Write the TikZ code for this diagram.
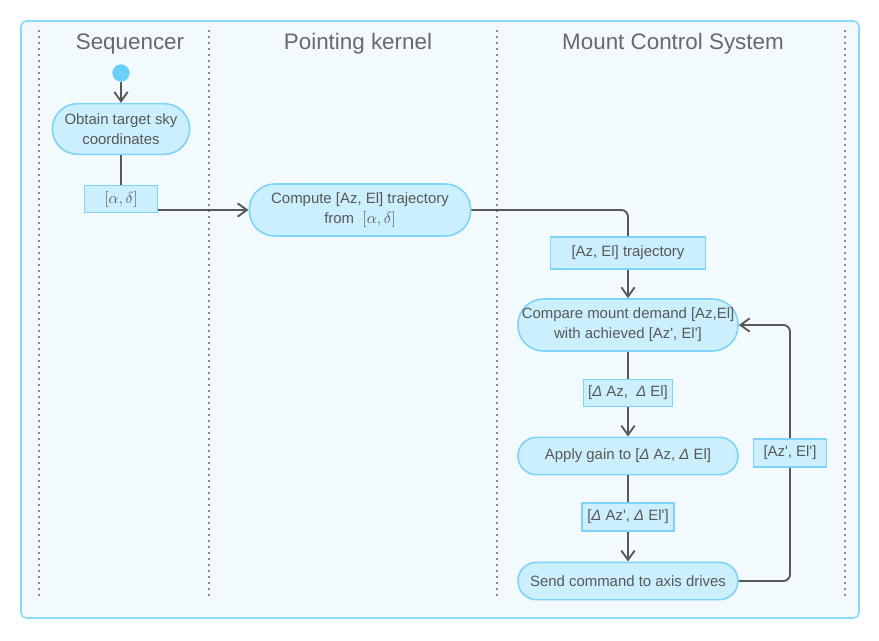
\documentclass[tikz,border=0pt]{standalone}
\usepackage{fontspec}
\setmainfont{Liberation Sans}
\usetikzlibrary{arrows.meta,positioning}

\definecolor{lanebg}{HTML}{F3FAFE}
\definecolor{laneedge}{HTML}{8CD8F8}
\definecolor{actfill}{HTML}{CBEFFD}
\definecolor{actedge}{HTML}{7DD3F8}
\definecolor{ink}{HTML}{585858}
\definecolor{dotblue}{HTML}{6CCFF8}

\newcommand{\dlt}{\textit{Δ}}
\newcommand{\apos}{\textquotesingle}

\tikzset{
  lanesep/.style={draw=ink!70, line width=1pt, dash pattern=on 1.5pt off 3pt},
  lanetitle/.style={text=ink!90, font=\fontsize{16.8}{20}\selectfont},
  startdot/.style={circle, fill=dotblue, minimum size=13pt, inner sep=0pt},
  action/.style={rectangle, rounded corners=#1, draw=actedge, fill=actfill, line width=1.2pt,
    text=ink, align=center, inner sep=1pt, font=\fontsize{11.2}{15}\selectfont},
  action/.default=19pt,
  datapin/.style={rectangle, draw=actedge, fill=actfill, line width=1.2pt,
    text=ink, inner sep=1pt, font=\fontsize{11.2}{15}\selectfont},
  wire/.style={draw=ink, line width=1.4pt},
  flow/.style={wire, -{Straight Barb[length=7pt,width=10pt]}}
}

\begin{document}
\begin{tikzpicture}[x=0.75pt,y=-0.75pt]
  \useasboundingbox (0,0) rectangle (879,640);
  \draw[laneedge, fill=lanebg, line width=1.2pt, rounded corners=4pt] (21,21) rectangle (859,618);

  % swimlanes
  \foreach \x in {39,209,497,845}
    \draw[lanesep] (\x,30) -- (\x,600);
  \node[lanetitle] (seqtitle) at (130,44) {Sequencer};
  \node[lanetitle] (kerneltitle) at (358,44) {Pointing kernel};
  \node[lanetitle] (mcstitle) at (673,44) {Mount Control System};

  % activities and data
  \node[startdot] (start) at (121,73) {};
  \node[action, minimum width=103pt, minimum height=38pt] (obtain) at (121,129)
    {Obtain target sky\\coordinates};
  \node[datapin, minimum width=55pt, minimum height=20pt, font=\fontsize{12.5}{15}\selectfont] (radec) at (121,199) {$[\alpha, \delta]$};
  \node[action, minimum width=166pt, minimum height=39pt] (compute) at (360,210)
    {Compute [Az, El] trajectory\\from\ \ {\fontsize{12.5}{15}\selectfont$[\alpha, \delta]$}};
  \node[datapin, minimum width=116pt, minimum height=24pt] (traj) at (628,253) {[Az, El] trajectory};
  \node[action, minimum width=165pt, minimum height=39pt] (compare) at (628,325)
    {Compare mount demand [Az,El]\\with achieved [Az\apos, El\apos]};
  \node[datapin, minimum width=67pt, minimum height=20pt] (delta) at (628,393)
    {[\dlt\ Az,\ \ \dlt\ El]};
  \node[action=13.9pt, minimum width=165pt, minimum height=28pt] (gain) at (628,456)
    {Apply gain to [\dlt\ Az, \dlt\ El]};
  \node[datapin, minimum width=69pt, minimum height=21pt] (deltap) at (628,517)
    {[\dlt\ Az\apos, \dlt\ El\apos]};
  \node[action=13.9pt, minimum width=165pt, minimum height=28pt] (send) at (628,581)
    {Send command to axis drives};
  \node[datapin, minimum width=55pt, minimum height=21pt] (achieved) at (790,453) {[Az\apos, El\apos]};

  % connectors
  \draw[flow] (start) -- (obtain);
  \draw[wire] (obtain) -- (radec);
  \draw[flow] (radec.east |- compute) -- (compute);
  \draw[wire, rounded corners=5pt] (compute) -| (traj);
  \draw[flow] (traj) -- (compare);
  \draw[wire] (compare) -- (delta);
  \draw[flow] (delta) -- (gain);
  \draw[wire] (gain) -- (deltap);
  \draw[flow] (deltap) -- (send);
  \draw[wire, rounded corners=5pt] (send) -| (achieved);
  \draw[flow, rounded corners=5pt] (achieved) |- (compare);
\end{tikzpicture}
\end{document}
